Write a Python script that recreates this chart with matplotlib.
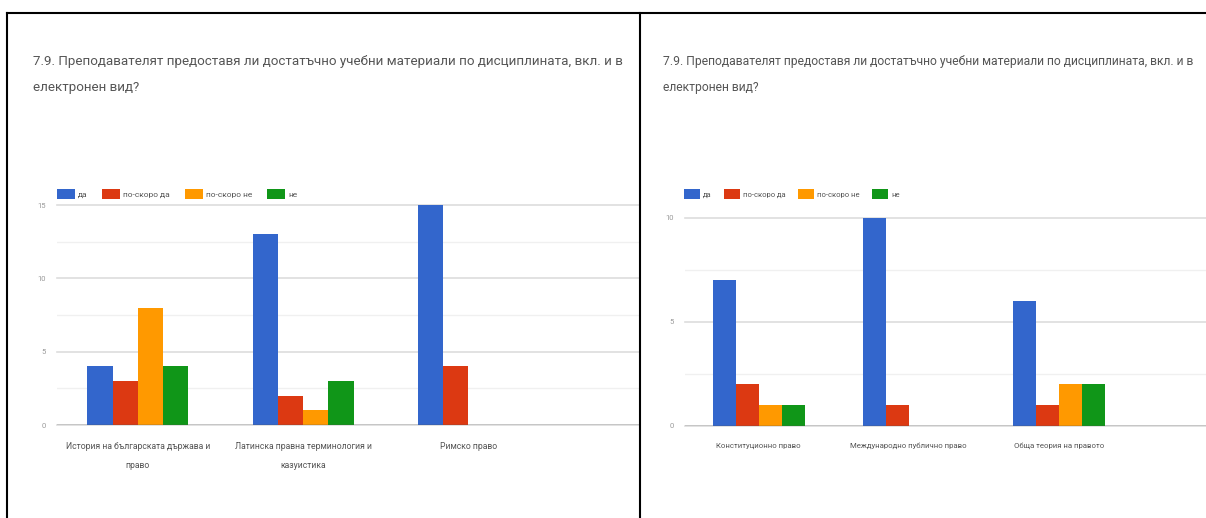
import matplotlib
matplotlib.use('Agg')
import matplotlib.pyplot as plt
import numpy as np
from matplotlib.lines import Line2D

# ---------------- data ----------------
title_l1 = '7.9. Преподавателят предоставя ли достатъчно учебни материали по дисциплината, вкл. и в'
title_l2 = 'електронен вид?'
answers = ['да', 'по-скоро да', 'по-скоро не', 'не']
colors = ['#3366cc', '#dc3912', '#ff9900', '#109618']

left_cats = ['История на българската държава и\nправо',
             'Латинска правна терминология и\nказуистика',
             'Римско право']
left_vals = [[4, 13, 15],   # да
             [3, 2, 4],     # по-скоро да
             [8, 1, 0],     # по-скоро не
             [4, 3, 0]]     # не
left_ticks = [0, 5, 10, 15]

right_cats = ['Конституционно право', 'Международно публично право', 'Обща теория на правото']
right_vals = [[7, 10, 6],
              [2, 1, 1],
              [1, 0, 2],
              [1, 0, 2]]
right_ticks = [0, 5, 10]

plt.rcParams['font.family'] = ['Roboto', 'DejaVu Sans']

fig = plt.figure(figsize=(12.06, 5.18), dpi=100)


def draw(ax, cats, vals, ticks, xlim, bw, xfs, lfs, lx, colsp):
    x = np.arange(len(cats))
    handles = []
    for i in range(len(answers)):
        b = ax.bar(x + (i - 1.5) * bw, vals[i], bw, color=colors[i], label=answers[i], zorder=3)
        handles.append(b)
    ax.set_xlim(*xlim)
    ax.set_ylim(0, ticks[-1])
    ax.set_xticks(x)
    ax.set_xticklabels(cats, fontsize=xfs, color='#555555', linespacing=2.5)
    ax.set_yticks(ticks)
    ax.set_yticklabels([str(t) for t in ticks], fontsize=5.5, color='#999999')
    ax.set_yticks([t + 2.5 for t in ticks[:-1]], minor=True)
    ax.tick_params(axis='x', length=0, pad=12)
    ax.tick_params(axis='y', which='both', length=0, pad=8)
    for s in ax.spines.values():
        s.set_visible(False)
    ax.grid(axis='y', which='major', color='#dddddd', linewidth=1.2, zorder=0)
    ax.grid(axis='y', which='minor', color='#f0f0f0', linewidth=1.0, zorder=0)
    ax.axhline(0, color='#555555', linewidth=1.0, zorder=4)
    for g in ax.get_ygridlines():
        g.set_clip_on(False)
    leg = fig.legend(handles=handles, loc='center left', bbox_to_anchor=(lx, 1 - 194 / 518),
                     ncol=4, frameon=False, fontsize=lfs, handlelength=2.1, handleheight=1.5,
                     handletextpad=0.4, columnspacing=colsp, borderaxespad=0, borderpad=0)
    for t in leg.get_texts():
        t.set_color('#555555')


ax1 = fig.add_axes([57 / 1206, 93 / 518, 583 / 1206, 220 / 518])
draw(ax1, left_cats, left_vals, left_ticks, (-0.49, 3.04), 0.153, 6.2, 6, 57 / 1206, 1.8)

ax2 = fig.add_axes([685 / 1206, 92 / 518, 521 / 1206, 208 / 518])
draw(ax2, right_cats, right_vals, right_ticks, (-0.49, 2.98), 0.153, 5.6, 5.5, 684 / 1206, 1.6)

# titles
fig.text(33 / 1206, 1 - 62 / 518, title_l1, fontsize=9.6, color='#555555', va='center')
fig.text(33 / 1206, 1 - 88 / 518, title_l2, fontsize=9.6, color='#555555', va='center')
fig.text(663 / 1206, 1 - 62 / 518, title_l1, fontsize=8.7, color='#555555', va='center')
fig.text(663 / 1206, 1 - 88 / 518, title_l2, fontsize=8.7, color='#555555', va='center')

# frame lines of the screenshot table
fig.add_artist(Line2D([7 / 1206, 1], [1 - 13 / 518, 1 - 13 / 518], color='black', linewidth=1.5))
fig.add_artist(Line2D([7 / 1206, 7 / 1206], [0, 1 - 13 / 518], color='black', linewidth=1.5))
fig.add_artist(Line2D([640 / 1206, 640 / 1206], [0, 1 - 13 / 518], color='black', linewidth=1.5))

fig.savefig('out.png', dpi=100)
